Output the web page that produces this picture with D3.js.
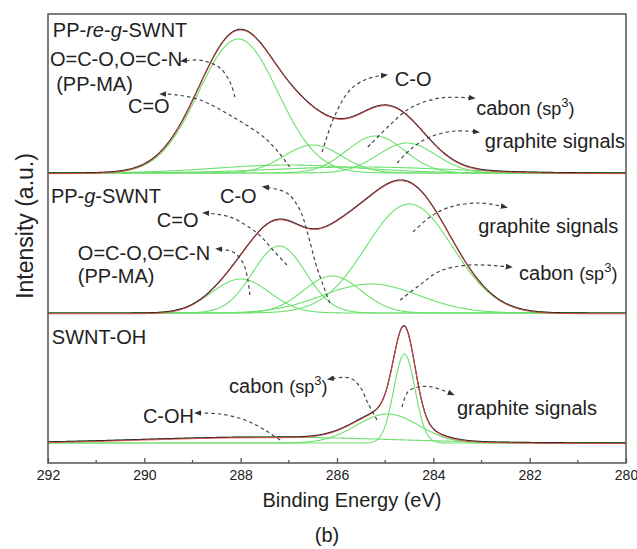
<!DOCTYPE html>
<html>
<head>
<meta charset="utf-8">
<script src="https://cdn.jsdelivr.net/npm/d3@7"></script>
<style>
  body { margin: 0; background: #fff; }
  text { font-family: "Liberation Sans", Arial, sans-serif; fill: #222; }
</style>
</head>
<body>
<script>
// axis ticks (binding energy, eV)
const majorTicks = [292, 290, 288, 286, 284, 282, 280];
const minorTicks = [291, 289, 287, 285, 283, 281];

// vertical offset of every spectrum (arbitrary units)
const baselines = [290, 150, 20];

// fitted components: [centre eV, height, sigma]
const peaksTop = [[288.05, 134, 0.82], [287.0, 8, 1.5], [286.5, 28, 0.6], [285.2, 37, 0.6], [284.55, 30, 0.6], [285.5, 6, 1.8]];
const peaksMid = [[288.0, 34, 0.6], [287.2, 67, 0.55], [286.1, 37, 0.6], [285.3, 29, 1.0], [284.5, 109, 0.9]];
const peaksBot = [[287.5, 6, 2.5], [284.95, 29, 0.65], [284.6, 89, 0.22]];
const panels = [peaksTop, peaksMid, peaksBot];

// labels: [text parts, eV, intensity]
const labels = [
  [[["PP-", ""], ["re", "i"], ["-", ""], ["g", "i"], ["-SWNT", ""]], 291.9, 426],
  [[["O=C-O,O=C-N", ""]], 291.96, 397],
  [[["(PP-MA)", ""]], 291.83, 372],
  [[["C=O", ""]], 290.34, 350],
  [[["C-O", ""]], 284.8, 377],
  [[["cabon ", ""], ["(sp", "s"], ["3", "u"], [")", "d"]], 283.11, 348],
  [[["graphite signals", ""]], 282.93, 315],
  [[["PP-", ""], ["g", "i"], ["-SWNT", ""]], 291.94, 260],
  [[["C-O", ""]], 288.43, 260],
  [[["C=O", ""]], 289.74, 236],
  [[["O=C-O,O=C-N", ""]], 291.38, 203],
  [[["(PP-MA)", ""]], 291.38, 180],
  [[["graphite signals", ""]], 283.07, 230],
  [[["cabon ", ""], ["(sp", "s"], ["3", "u"], [")", "d"]], 282.22, 183],
  [[["SWNT-OH", ""]], 291.92, 119],
  [[["cabon ", ""], ["(sp", "s"], ["3", "u"], [")", "d"]], 288.24, 70],
  [[["C-OH", ""]], 290.03, 40],
  [[["graphite signals", ""]], 283.51, 48]
];

// dashed arrows: points [eV, intensity], last point is the head
const arrows = [
  [[288.12, 366], [288.22, 381], [288.43, 395], [288.68, 401], [288.91, 403], [289.2, 402]],
  [[286.98, 296], [287.45, 323], [288.16, 346], [288.84, 363], [289.32, 368], [289.63, 369]],
  [[286.31, 311], [286.04, 348], [285.73, 373], [285.38, 384], [285.0, 388]],
  [[285.36, 316], [284.9, 338], [284.48, 355], [283.86, 365], [283.18, 365]],
  [[284.75, 300], [284.44, 315], [284.07, 326], [283.55, 332], [283.09, 331]],
  [[286.15, 160], [286.42, 196], [286.6, 228], [286.77, 253], [287.04, 270], [287.5, 276]],
  [[287.04, 198], [287.33, 213], [287.66, 230], [288.22, 246], [288.74, 250]],
  [[287.81, 168], [287.85, 183], [287.95, 200], [288.16, 211], [288.47, 214]],
  [[284.42, 231], [284.07, 246], [283.65, 256], [283.03, 260], [282.51, 256]],
  [[284.69, 163], [284.28, 178], [283.86, 192], [283.24, 198], [282.41, 196]],
  [[287.18, 23], [287.5, 33], [287.91, 43], [288.43, 49], [288.91, 50]],
  [[285.17, 43], [285.36, 60], [285.52, 76], [285.73, 85], [286.15, 84]],
  [[284.65, 56], [284.53, 71], [284.32, 76], [284.03, 76], [283.61, 69]]
];

const width = 637, height = 549;
const margin = {top: 14, right: 11, bottom: 86, left: 48};

const svg = d3.select("body").append("svg")
  .attr("width", width)
  .attr("height", height);

const x = d3.scaleLinear().domain([292, 280]).range([margin.left, width - margin.right]);
const y = d3.scaleLinear().domain([0, 449]).range([height - margin.bottom, margin.top]);

const gauss = (e, p) => p[1] * Math.exp(-((e - p[0]) ** 2) / (2 * p[2] * p[2]));
const grid = d3.range(292, 279.99, -0.02);

const line = d3.line().x(d => x(d[0])).y(d => y(d[1]));

// spectra
panels.forEach((peaks, i) => {
  const base = baselines[i];
  const g = svg.append("g");

  peaks.forEach(p => {
    g.append("path")
      .datum(grid.map(e => [e, base + gauss(e, p)]))
      .attr("d", line)
      .attr("fill", "none")
      .attr("stroke", "#6ee06e")
      .attr("stroke-width", 1.1);
  });

  const sum = grid.map(e => [e, base + d3.sum(peaks, p => gauss(e, p))]);
  g.append("path")
    .datum(sum)
    .attr("d", line)
    .attr("fill", "none")
    .attr("stroke", "#222")
    .attr("stroke-width", 1.2);
  g.append("path")
    .datum(sum)
    .attr("d", line)
    .attr("fill", "none")
    .attr("stroke", "#e04848")
    .attr("stroke-width", 1)
    .attr("transform", "translate(0,0.7)");
});

// arrow head
svg.append("defs").append("marker")
  .attr("id", "head")
  .attr("viewBox", "0 0 10 10")
  .attr("refX", 6)
  .attr("refY", 5)
  .attr("markerWidth", 6)
  .attr("markerHeight", 6)
  .attr("orient", "auto")
  .append("path")
  .attr("d", "M0,1L10,5L0,9z")
  .attr("fill", "#333");

const arrowLine = d3.line().x(d => x(d[0])).y(d => y(d[1])).curve(d3.curveCatmullRom);
svg.selectAll(".arrow")
  .data(arrows)
  .enter().append("path")
  .attr("class", "arrow")
  .attr("d", arrowLine)
  .attr("fill", "none")
  .attr("stroke", "#444")
  .attr("stroke-width", 1.2)
  .attr("stroke-dasharray", "3.5,3")
  .attr("marker-end", "url(#head)");

// text labels
labels.forEach(l => {
  const t = svg.append("text")
    .attr("x", x(l[1]))
    .attr("y", y(l[2]))
    .style("font-size", "20px");
  l[0].forEach(part => {
    const s = t.append("tspan").text(part[0]);
    if (part[1] == "i") s.style("font-style", "italic");
    if (part[1] == "s") s.style("font-size", "18px");
    if (part[1] == "u") s.style("font-size", "13px").attr("dy", -8);
    if (part[1] == "d") s.style("font-size", "18px").attr("dy", 8);
  });
});

// frame
svg.append("rect")
  .attr("x", x(292))
  .attr("y", y(449))
  .attr("width", x(280) - x(292))
  .attr("height", y(0) - y(449))
  .attr("fill", "none")
  .attr("stroke", "#555")
  .attr("stroke-width", 1.5);

// x axis, ticks pointing inward
const xAxis = svg.append("g")
  .attr("transform", "translate(0," + y(0) + ")")
  .call(d3.axisBottom(x).tickValues(majorTicks).tickSizeInner(-5).tickSizeOuter(0).tickPadding(7).tickFormat(d3.format("d")));
xAxis.select(".domain").remove();
xAxis.selectAll("line").attr("stroke", "#555").attr("stroke-width", 1.3);
xAxis.selectAll("text")
  .style("font-size", "14px")
  .style("font-family", "'Liberation Sans', Arial, sans-serif")
  .attr("fill", "#222");

svg.append("g")
  .attr("transform", "translate(0," + y(0) + ")")
  .selectAll("line")
  .data(minorTicks)
  .enter().append("line")
  .attr("x1", d => x(d))
  .attr("x2", d => x(d))
  .attr("y1", 0)
  .attr("y2", -3)
  .attr("stroke", "#555")
  .attr("stroke-width", 1.3);

// axis titles
svg.append("text")
  .attr("x", 352)
  .attr("y", 507)
  .attr("text-anchor", "middle")
  .style("font-size", "20px")
  .text("Binding Energy (eV)");

svg.append("text")
  .attr("transform", "translate(33,226) rotate(-90)")
  .attr("text-anchor", "middle")
  .style("font-size", "23px")
  .text("Intensity (a.u.)");

svg.append("text")
  .attr("x", 327)
  .attr("y", 542)
  .attr("text-anchor", "middle")
  .style("font-size", "20px")
  .text("(b)");
</script>
</body>
</html>
